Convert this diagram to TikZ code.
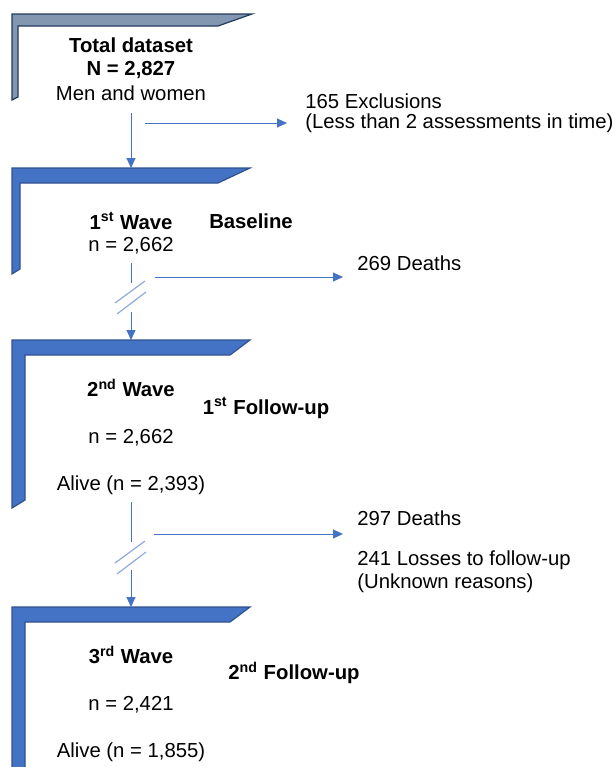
\documentclass[tikz,border=0pt]{standalone}
\usepackage{fontspec}
\setmainfont{Liberation Sans}
\usepackage{xcolor}
\definecolor{waveblue}{HTML}{4472C4}
\definecolor{waveedge}{HTML}{2F528F}
\definecolor{totalfill}{HTML}{8497B0}
\definecolor{totaledge}{HTML}{223A5E}
\definecolor{breakblue}{HTML}{8FAADC}
\usetikzlibrary{arrows.meta}

\begin{document}
\begin{tikzpicture}[x=0.5pt, y=-0.5pt, font=\fontsize{10.15}{12}\selectfont,
	every node/.style={inner sep=0pt},
	frame/.style={fill=waveblue, draw=waveedge, line width=0.6pt},
	flow/.style={draw=waveblue, line width=0.5pt},
	flowarrow/.style={flow, -{Triangle[length=5pt, width=4.5pt]}},
	cut/.style={draw=breakblue, line width=0.6pt},
	head/.style={font=\fontsize{10.15}{12}\selectfont\bfseries}]
			\useasboundingbox (0,0) rectangle (616,767);

			% Frames
			\draw[frame, fill=totalfill, draw=totaledge] (12,100) -- (12,14) -- (252,14) -- (218,26) -- (18,26) -- (18,97) -- cycle;
			\draw[frame] (12,274) -- (12,168) -- (250,168) -- (218,183) -- (20,183) -- (20,269) -- cycle;
			\draw[frame] (12,508) -- (12,340) -- (250,340) -- (230,355) -- (25,355) -- (25,500) -- cycle;
			\draw[frame] (12,775) -- (12,607) -- (250,607) -- (230,622) -- (25,622) -- (25,768) -- cycle;
			\coordinate (top2) at (131,168);
			\coordinate (top3) at (131,340);
			\coordinate (top4) at (131,607);

			% Total dataset
			\node[head] (total) at (131,45) {Total dataset};
			\node[head] (totN) at (131,70) {N = 2,827};
			\node (men) at (131,93) {Men and women};
			\node[anchor=west] (excl1) at (305,101) {165 Exclusions};
			\node[anchor=west] (excl2) at (305,123) {(Less than 2 assessments in time)};

			% 1st wave
			\node[head] (wave1) at (131,221) {1\textsuperscript{st} Wave};
			\node[head] (base) at (251,221) {Baseline};
			\node (n1) at (131,246) {n = 2,662};
			\node[anchor=west] (deaths1) at (357,263) {269 Deaths};

			% 2nd wave
			\node[head] (wave2) at (131,388) {2\textsuperscript{nd} Wave};
			\node[head] (fu1) at (266,408) {1\textsuperscript{st} Follow-up};
			\node (n2) at (131,438) {n = 2,662};
			\node (alive2) at (131,485) {Alive (n = 2,393)};
			\node[anchor=west] (deaths2) at (357,518) {297 Deaths};
			\node[anchor=west] (losses) at (357,560) {241 Losses to follow-up};
			\node[anchor=west] (unknown) at (357,583) {(Unknown reasons)};

			% 3rd wave
			\node[head] (wave3) at (131,655) {3\textsuperscript{rd} Wave};
			\node[head] (fu2) at (294,673) {2\textsuperscript{nd} Follow-up};
			\node (n3) at (131,705) {n = 2,421};
			\node (alive3) at (131,752) {Alive (n = 1,855)};

			% Connectors
			\coordinate (d1) at (131,113);
			\draw[flowarrow] (d1) -- (top2);
			\coordinate (x1) at (145,123);
			\draw[flowarrow, shorten >=9pt] (x1) -- (excl2.west);

			\coordinate (d2) at (131,263);
			\coordinate (d2b) at (131,283);
			\coordinate (d2c) at (131,312);
			\draw[flow] (d2) -- (d2b);
			\draw[flowarrow] (d2c) -- (top3);
			\coordinate (x2) at (155,277);
			\draw[flowarrow, shorten >=7pt] (x2) -- (x2 -| deaths1.west);

			\coordinate (d3) at (131,502);
			\coordinate (d3b) at (131,542);
			\coordinate (d3c) at (131,570);
			\draw[flow] (d3) -- (d3b);
			\draw[flowarrow] (d3c) -- (top4);
			\coordinate (x3) at (154,534);
			\draw[flowarrow, shorten >=7pt] (x3) -- (x3 -| deaths2.west);

			% Break marks on the follow-up lines
			\foreach \by in {303,563}{
				\draw[cut] (115,\by) -- (145,\by-22);
				\draw[cut] (117,\by+11) -- (146,\by-11);
			}
		\end{tikzpicture}
\end{document}
